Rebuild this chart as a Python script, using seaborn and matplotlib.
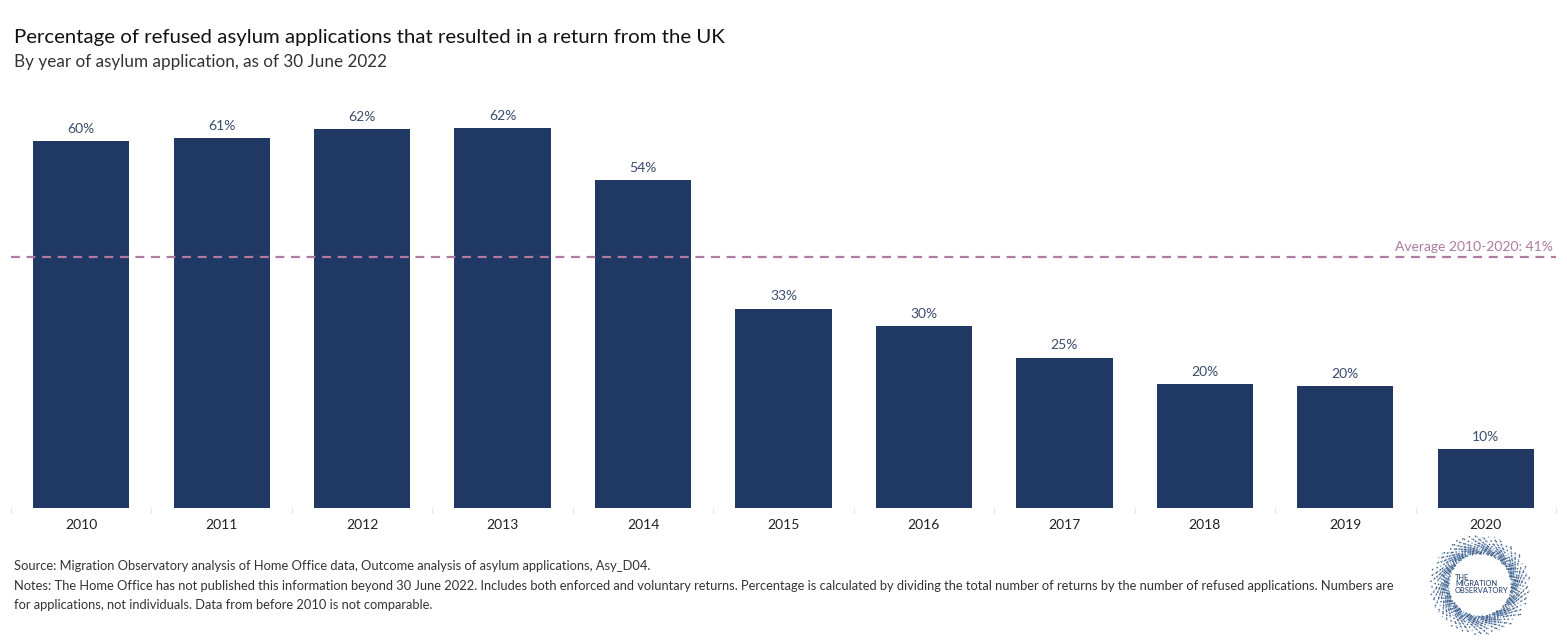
import matplotlib.pyplot as plt
import seaborn as sns
import numpy as np
import pandas as pd

years = ['2010', '2011', '2012', '2013', '2014', '2015', '2016', '2017', '2018', '2019', '2020']
pct = [60.0, 60.5, 61.9, 62.1, 53.6, 32.6, 29.7, 24.6, 20.3, 20.0, 9.6]
labels = ['60%', '61%', '62%', '62%', '54%', '33%', '30%', '25%', '20%', '20%', '10%']
average = 41

df = pd.DataFrame({'year': years, 'pct': pct})

sns.set_theme(style='white')
plt.rcParams['font.family'] = ['Lato', 'DejaVu Sans']

fig = plt.figure(figsize=(15.67, 6.43), dpi=100)
ax = fig.add_axes([11 / 1567, 135 / 643, 1545 / 1567, 408 / 643])

sns.barplot(data=df, x='year', y='pct', color='#203864', saturation=1, width=0.686,
            linewidth=0, ax=ax)
ax.set_xlim(-0.5, len(years) - 0.5)
ax.set_ylim(0, 66.7)

for i, lab in enumerate(labels):
    ax.text(i, pct[i] + 1.0, lab, ha='center', va='bottom', fontsize=10, color='#3b4b6e')

# average line
ax.axhline(average, color='#b07aa1', lw=1.6, ls=(0, (4, 3)))
ax.text(len(years) - 0.52, average + 0.7, 'Average 2010-2020: 41%', ha='right', va='bottom',
        fontsize=10, color='#b07aa1')

sns.despine(ax=ax, left=True, bottom=True)
ax.set_yticks([])
ax.set_xlabel('')
ax.set_ylabel('')
ax.tick_params(axis='x', length=0, labelsize=10, pad=8, labelcolor='#222222')
for b in np.arange(-0.5, len(years), 1):
    ax.plot([b, b], [0, -0.8], color='#e6e6e6', lw=0.8, clip_on=False)

fig.text(14 / 1567, 1 - 38 / 643, 'Percentage of refused asylum applications that resulted in a return from the UK',
         fontsize=14.7, color='#111111', va='center')
fig.text(14 / 1567, 1 - 62 / 643, 'By year of asylum application, as of 30 June 2022',
         fontsize=12.3, color='#333333', va='center')

notes = ['Source: Migration Observatory analysis of Home Office data, Outcome analysis of asylum applications, Asy_D04.',
         'Notes: The Home Office has not published this information beyond 30 June 2022. Includes both enforced and voluntary returns. Percentage is calculated by dividing the total number of returns by the number of refused applications. Numbers are',
         'for applications, not individuals. Data from before 2010 is not comparable.']
for k, line in enumerate(notes):
    fig.text(14 / 1567, 1 - (566 + k * 19.5) / 643, line, fontsize=9.25, color='#333333', va='center')

# logo: dotted ring (quasi-uniform R2 sequence, decoration only)
lax = fig.add_axes([1430 / 1567, 1 - 635 / 643, 100 / 1567, 100 / 643])
lax.set_xlim(-1, 1)
lax.set_ylim(-1, 1)
lax.set_aspect('equal')
lax.axis('off')
n = 1100
idx = np.arange(1, n + 1)
ang = 2 * np.pi * ((idx * 0.7548776662) % 1)
v = (idx * 0.5698402910) % 1
rad = 0.62 + 0.24 * v + 0.14 * v ** 6
lax.scatter(rad * np.cos(ang), rad * np.sin(ang), s=1.4,
            c=np.where(idx % 3 == 0, '#6fa8d6', '#1f3a68'), linewidths=0, alpha=0.8)
lax.text(-0.5, 0.02, 'THE\nMIGRATION\nOBSERVATORY', fontsize=5.4, color='#1f3a68',
         va='center', ha='left', linespacing=0.95)

fig.savefig('out.png', dpi=100)
